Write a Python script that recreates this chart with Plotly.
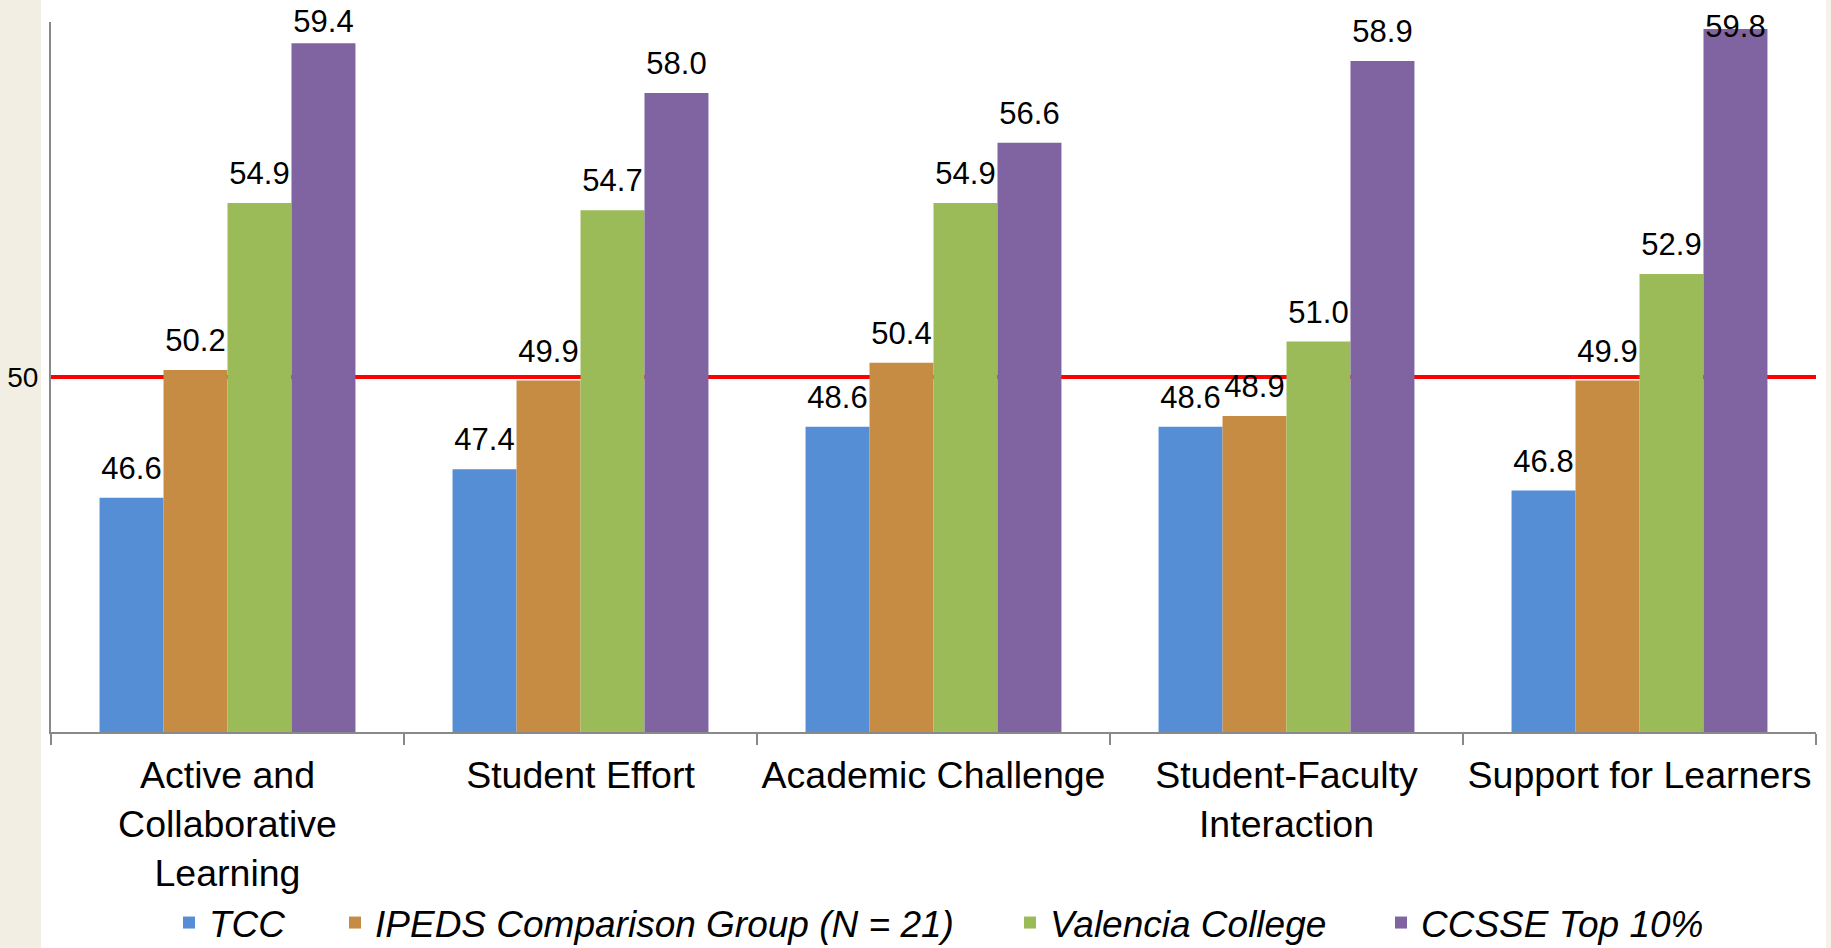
import plotly.graph_objects as go

# Benchmark categories and series values
categories = [
    "Active and<br>Collaborative<br>Learning",
    "Student Effort",
    "Academic Challenge",
    "Student-Faculty<br>Interaction",
    "Support for Learners",
]
series_names = ["TCC", "IPEDS Comparison Group (N = 21)", "Valencia College", "CCSSE Top 10%"]
tcc = [46.6, 47.4, 48.6, 48.6, 46.8]
ipeds = [50.2, 49.9, 50.4, 48.9, 49.9]
valencia = [54.9, 54.7, 54.9, 51.0, 52.9]
ccsse_top10 = [59.4, 58.0, 56.6, 58.9, 59.8]
benchmark_line = 50
y_ticks = [50]
y_ticktext = ["50"]

colors = ["#558ED5", "#C78C44", "#9BBB59", "#8064A2"]
values = [tcc, ipeds, valencia, ccsse_top10]

W, H = 1831, 948
ML, MR, MT, MB = 51, 15, 22, 216
plot_w = W - ML - MR
plot_h = H - MT - MB
Y_MIN, Y_MAX = 40, 60
GAP = 0.275

def px_to_paper_x(px):
    return (px - ML) / plot_w

def px_to_paper_y(py):
    return (H - MB - py) / plot_h

FONT = "Liberation Sans, Arial, sans-serif"
LABEL_SIZE = 31
LABEL_GAP = 19        # px between a label's baseline and its bar's top
LABEL_MIN_BASE = 32   # labels are kept below this baseline (px from top)


def label_style(v):
    """Position and spacer-marker size for a value label, keeping labels
    inside the figure: near the top they are pulled down toward the bar."""
    bar_top = MT + (Y_MAX - v) * plot_h / (Y_MAX - Y_MIN)
    gap = min(LABEL_GAP, bar_top - LABEL_MIN_BASE)
    r = gap - 0.25 * LABEL_SIZE
    if r <= 1:
        return "middle center", 0
    return "top center", 2 * (r - 1) * 0.8


fig = go.Figure()
legend_ids = ["legend", "legend2", "legend3", "legend4"]
for name, vals, col, lg in zip(series_names, values, colors, legend_ids):
    fig.add_trace(go.Bar(
        name=name,
        x=categories,
        y=vals,
        marker=dict(color=col, line=dict(width=0)),
        legend=lg,
    ))

# Value labels, grouped the same way as the bars; an invisible marker keeps
# each label clear of its bar
for name, vals in zip(series_names, values):
    styles = [label_style(v) for v in vals]
    fig.add_trace(go.Scatter(
        x=categories,
        y=vals,
        mode="markers+text",
        marker=dict(size=[s for _, s in styles], opacity=0),
        text=[f"{v:.1f}" for v in vals],
        textposition=[p for p, _ in styles],
        textfont=dict(family=FONT, size=LABEL_SIZE, color="black"),
        cliponaxis=False,
        showlegend=False,
        hoverinfo="skip",
        name=name,
    ))

# Legend entries positioned individually along the bottom
legend_left_px = [169, 335, 1010, 1381]
legend_layouts = {}
for lg, lx in zip(legend_ids, legend_left_px):
    legend_layouts[lg] = dict(
        x=px_to_paper_x(lx),
        xanchor="left",
        y=px_to_paper_y(923),
        yanchor="middle",
        orientation="h",
        bgcolor="rgba(0,0,0,0)",
        font=dict(family=FONT, size=37, color="black", style="italic"),
    )

shapes = [
    # reference line at the benchmark value
    dict(type="line", xref="paper", yref="y", x0=0, x1=1,
         y0=benchmark_line, y1=benchmark_line,
         line=dict(color="#FF0000", width=4), layer="below"),
    # beige side strips
    dict(type="rect", xref="paper", yref="paper",
         x0=px_to_paper_x(0), x1=px_to_paper_x(41),
         y0=px_to_paper_y(H), y1=px_to_paper_y(0),
         fillcolor="#F3EEE3", line=dict(width=0), layer="below"),
    dict(type="rect", xref="paper", yref="paper",
         x0=px_to_paper_x(1826), x1=px_to_paper_x(W),
         y0=px_to_paper_y(H), y1=px_to_paper_y(0),
         fillcolor="#F6F2E9", line=dict(width=0), layer="below"),
]

fig.update_layout(
    width=W, height=H,
    margin=dict(l=ML, r=MR, t=MT, b=MB, autoexpand=False),
    paper_bgcolor="white",
    plot_bgcolor="white",
    barmode="group",
    bargap=GAP,
    bargroupgap=0,
    scattermode="group",
    scattergap=GAP,
    shapes=shapes,
    showlegend=True,
    font=dict(family=FONT, color="black"),
    **legend_layouts,
)

fig.update_xaxes(
    type="category",
    automargin=False,
    tickangle=0,
    showline=True, linecolor="#898989", linewidth=2,
    ticks="outside", tickson="boundaries", ticklen=11,
    tickcolor="#898989", tickwidth=2,
    ticklabelstandoff=9,
    tickfont=dict(family=FONT, size=37.5, color="black"),
    showgrid=False, zeroline=False,
)
fig.update_yaxes(
    range=[Y_MIN, Y_MAX],
    automargin=False,
    showline=True, linecolor="#898989", linewidth=2,
    tickvals=y_ticks, ticktext=y_ticktext, ticks="",
    ticklabelstandoff=5,
    tickfont=dict(family=FONT, size=28, color="black"),
    showgrid=False, zeroline=False,
)

fig.write_html("out.html")
